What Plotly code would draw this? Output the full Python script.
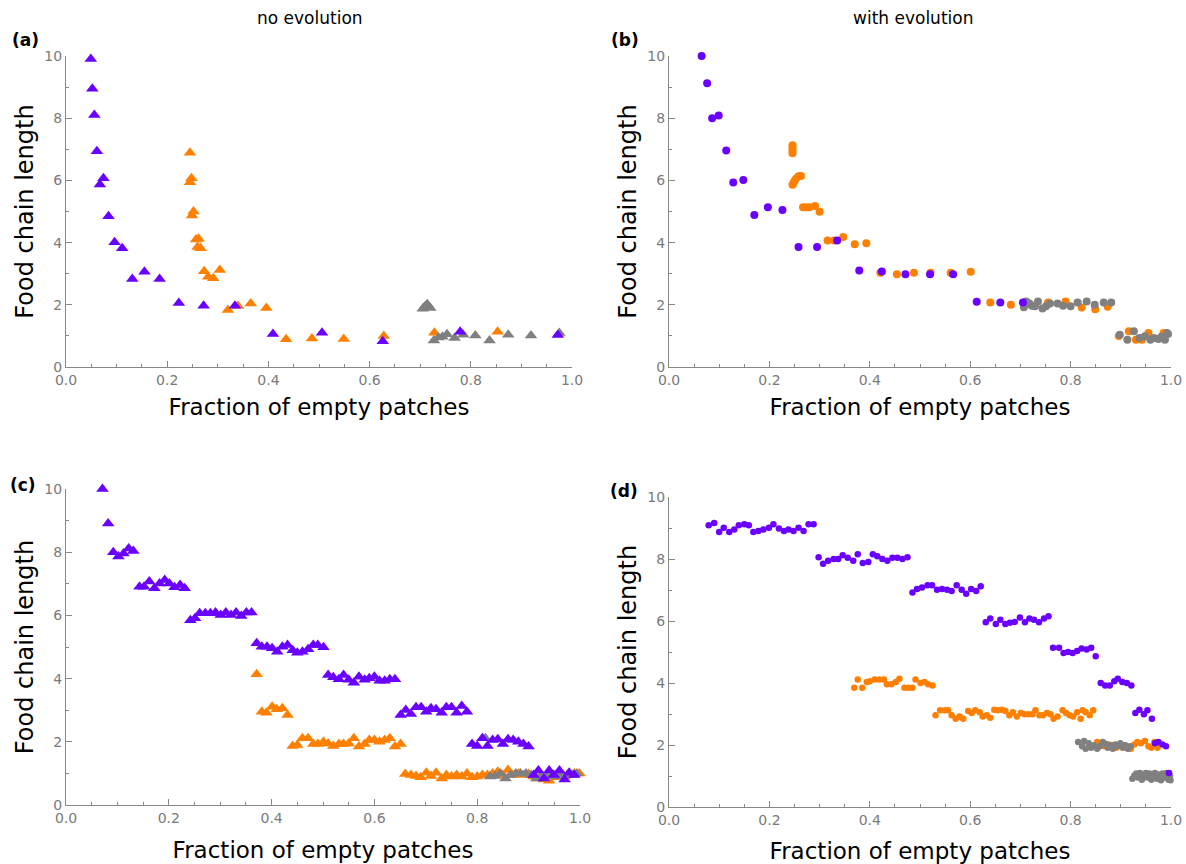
import plotly.graph_objects as go

PURPLE = "#6A00FF"
ORANGE = "#FF8000"
GRAY = "#808080"

# ---------------- Panel (a): no evolution, triangles ----------------
a_purple_x = [0.049, 0.052, 0.056, 0.061, 0.074, 0.067, 0.084, 0.096, 0.111, 0.131, 0.155, 0.185,
              0.223, 0.272, 0.334, 0.409, 0.506, 0.626, 0.779, 0.972]
a_purple_y = [9.9, 8.95, 8.1, 6.94, 6.07, 5.87, 4.85, 4.01, 3.82, 2.83, 3.06, 2.83,
              2.06, 1.97, 1.97, 1.06, 1.10, 0.83, 1.13, 1.03]
a_orange_x = [0.245, 0.248, 0.245, 0.252, 0.249, 0.257, 0.262, 0.260, 0.266, 0.273, 0.281, 0.291,
              0.304, 0.320, 0.340, 0.365, 0.396, 0.435, 0.486, 0.549, 0.628, 0.728, 0.853]
a_orange_y = [6.89, 6.07, 5.94, 5.0, 4.87, 4.10, 4.12, 3.86, 3.82, 3.08, 2.90, 2.85,
              3.12, 1.83, 1.96, 2.04, 1.90, 0.89, 0.92, 0.90, 1.00, 1.10, 1.13]
a_gray_x = [0.705, 0.714, 0.710, 0.720, 0.708, 0.727, 0.736, 0.744, 0.753, 0.768, 0.785, 0.809,
            0.837, 0.874, 0.919, 0.975]
a_gray_y = [1.87, 2.02, 1.95, 1.90, 1.92, 0.85, 0.95, 0.97, 1.05, 0.93, 1.04, 1.01,
            0.85, 1.04, 1.01, 1.09]

# ---------------- Panel (b): with evolution, circles ----------------
b_purple_x = [0.065, 0.076, 0.086, 0.099, 0.114, 0.128, 0.148, 0.170, 0.197, 0.226, 0.258, 0.295,
              0.335, 0.379, 0.424, 0.471, 0.520, 0.566, 0.613, 0.660, 0.705]
b_purple_y = [10.0, 9.12, 8.0, 8.09, 6.96, 5.93, 6.01, 4.89, 5.14, 5.05, 3.86, 3.86,
              4.07, 3.10, 3.07, 2.98, 2.98, 2.98, 2.10, 2.07, 2.07]
b_orange_x = [0.246, 0.246, 0.246, 0.246, 0.246, 0.250, 0.253, 0.258, 0.263, 0.248,
              0.267, 0.273, 0.280, 0.291, 0.300, 0.316, 0.329, 0.347, 0.370, 0.393,
              0.421, 0.454, 0.488, 0.521, 0.561, 0.601,
              0.640, 0.681, 0.714, 0.755, 0.790, 0.822, 0.849, 0.874,
              0.896, 0.916, 0.930, 0.942, 0.955, 0.985]
b_orange_y = [7.13, 7.03, 6.94, 6.87, 5.86, 5.98, 6.05, 6.13, 6.14, 5.92,
              5.14, 5.14, 5.14, 5.18, 4.99, 4.07, 4.07, 4.18, 3.95, 3.98,
              3.03, 2.98, 3.03, 3.03, 3.03, 3.06,
              2.07, 2.00, 2.07, 2.07, 2.11, 1.91, 1.86, 1.94,
              1.00, 1.15, 0.88, 0.88, 1.09, 1.09]
b_gray_x = [0.707, 0.711, 0.718, 0.723, 0.729, 0.735, 0.744, 0.751, 0.759, 0.774, 0.785, 0.800,
            0.814, 0.832, 0.848, 0.866, 0.881,
            0.898, 0.913, 0.926, 0.937, 0.948, 0.959, 0.966, 0.975, 0.981, 0.988, 0.992, 0.994]
b_gray_y = [1.92, 2.11, 2.04, 1.97, 1.95, 2.11, 1.88, 1.95, 2.04, 2.04, 1.97, 1.95,
            2.07, 2.11, 2.00, 2.07, 2.07,
            1.04, 0.88, 1.15, 0.93, 0.99, 0.88, 0.93, 0.90, 0.97, 0.88, 1.09, 1.06]

# ---------------- Panel (c): no evolution, triangles ----------------
c_purple_x = [0.071, 0.082, 0.092, 0.102, 0.112, 0.122, 0.131,
              0.143, 0.152, 0.162, 0.172, 0.182, 0.192, 0.201, 0.211, 0.222, 0.231,
              0.242, 0.251, 0.260, 0.271, 0.281, 0.291, 0.301, 0.311, 0.321, 0.331, 0.341, 0.351, 0.361,
              0.371, 0.381, 0.391, 0.401, 0.411, 0.421, 0.431, 0.441, 0.450, 0.460, 0.471, 0.481, 0.490, 0.501,
              0.510, 0.520, 0.531, 0.540, 0.550, 0.560, 0.570, 0.581, 0.590, 0.600, 0.610, 0.620, 0.630, 0.640,
              0.651, 0.661, 0.671, 0.681, 0.691, 0.701, 0.710, 0.720, 0.731, 0.740, 0.750, 0.760, 0.770, 0.780,
              0.790, 0.800, 0.810, 0.820, 0.830, 0.840, 0.850, 0.860, 0.870, 0.880, 0.890, 0.900,
              0.910, 0.919, 0.930, 0.940, 0.949, 0.960, 0.970, 0.979, 0.989]
c_purple_y = [10.0, 8.91, 8.0, 7.86, 7.96, 8.12, 8.04,
              6.91, 6.91, 7.07, 6.86, 7.01, 7.12, 7.01, 6.89, 6.96, 6.86,
              5.85, 5.91, 6.07, 6.07, 6.07, 6.09, 6.01, 6.09, 6.01, 6.09, 5.98, 6.09, 6.09,
              5.12, 5.01, 5.01, 4.96, 4.85, 5.01, 5.06, 4.90, 4.82, 4.85, 4.93, 5.06, 5.06, 4.99,
              4.11, 4.04, 3.98, 4.11, 3.96, 3.87, 4.06, 3.96, 4.01, 4.06, 3.93, 3.93, 3.98, 3.98,
              2.85, 3.01, 2.88, 3.09, 3.09, 2.95, 3.06, 3.03, 2.92, 3.09, 3.09, 2.92, 3.13, 2.95,
              1.93, 1.87, 2.11, 1.87, 2.06, 2.08, 1.93, 2.08, 2.06, 2.00, 1.93, 1.85,
              0.95, 1.09, 0.84, 1.09, 0.95, 1.09, 0.81, 1.02, 0.95]
c_orange_x = [0.371,
              0.381, 0.390, 0.401, 0.410, 0.421, 0.431,
              0.441, 0.450, 0.460, 0.471, 0.481, 0.490, 0.501, 0.510, 0.520, 0.531, 0.540, 0.550,
              0.560, 0.570, 0.581, 0.590, 0.600, 0.610, 0.620, 0.630, 0.640, 0.651,
              0.660, 0.671, 0.681, 0.690, 0.701, 0.710, 0.720, 0.731, 0.740, 0.750, 0.760, 0.770,
              0.780, 0.790, 0.800, 0.810, 0.820, 0.830, 0.840, 0.850, 0.860, 0.869, 0.880, 0.890,
              0.900, 0.910, 0.919, 0.930, 0.940, 0.949, 0.960, 0.970, 0.979, 0.989, 0.999]
c_orange_y = [4.14,
              2.95, 2.92, 3.11, 3.03, 3.06, 2.85,
              1.87, 1.90, 2.11, 2.11, 1.93, 1.93, 2.00, 1.95, 1.87, 1.93, 1.93, 1.95,
              2.11, 1.85, 1.93, 2.06, 2.06, 2.00, 2.06, 2.11, 1.85, 1.93,
              0.98, 0.95, 0.92, 0.88, 1.02, 0.92, 1.02, 0.84, 0.95, 0.90, 0.95, 0.90,
              1.00, 0.88, 0.90, 0.95, 0.95, 1.00, 1.05, 0.95, 1.11, 0.95, 1.00, 0.95,
              0.98, 0.90, 0.84, 0.81, 0.77, 0.88, 0.95, 0.90, 1.00, 1.00, 1.00]
c_gray_x = [0.816, 0.825, 0.835, 0.845, 0.855, 0.865, 0.875, 0.884, 0.895, 0.905, 0.915, 0.925,
            0.935, 0.945, 0.955, 0.965, 0.975, 0.985, 0.994]
c_gray_y = [2.11, 0.90, 0.92, 1.00, 0.84, 0.95, 1.00, 1.00, 1.00, 0.95, 0.84, 0.92,
            0.90, 0.95, 0.90, 0.95, 0.95, 0.95, 1.00]

# ---------------- Panel (d): with evolution, circles ----------------
d_purple_x = [0.079, 0.090, 0.100, 0.109, 0.120, 0.130, 0.139, 0.150, 0.159, 0.168, 0.178, 0.188,
              0.199, 0.208, 0.219, 0.229, 0.238, 0.248, 0.258, 0.268, 0.278, 0.288,
              0.298, 0.307, 0.317, 0.328, 0.337, 0.346, 0.356, 0.367, 0.376, 0.386, 0.397, 0.406,
              0.415, 0.425, 0.435, 0.445, 0.455, 0.465, 0.475,
              0.485, 0.494, 0.504, 0.515, 0.524, 0.534, 0.544, 0.554, 0.563, 0.573, 0.583, 0.592,
              0.602, 0.612, 0.621,
              0.631, 0.640, 0.651, 0.660, 0.670, 0.679, 0.689, 0.699, 0.709, 0.718, 0.727, 0.737,
              0.747, 0.756,
              0.765, 0.777, 0.786, 0.795, 0.804, 0.813, 0.822, 0.832, 0.841, 0.850,
              0.860, 0.869, 0.878, 0.887, 0.894, 0.903, 0.912, 0.921,
              0.929, 0.937, 0.946, 0.953, 0.962,
              0.968, 0.975, 0.983, 0.990, 0.996]
d_purple_y = [9.09, 9.16, 8.87, 9.01, 8.87, 8.95, 9.09, 9.12, 9.09, 8.87, 8.90, 8.95,
              9.01, 9.12, 8.98, 8.90, 8.95, 8.90, 9.01, 8.90, 9.12, 9.12,
              8.06, 7.85, 7.94, 8.00, 8.00, 8.12, 8.04, 7.94, 8.15, 7.87, 7.90, 8.15,
              8.09, 8.00, 7.94, 8.04, 8.04, 8.00, 8.06,
              6.92, 7.03, 7.08, 7.15, 7.15, 7.01, 7.03, 7.01, 6.97, 7.15, 7.01, 6.88,
              7.03, 6.97, 7.12,
              5.96, 6.08, 5.90, 6.04, 5.90, 5.94, 5.97, 6.11, 5.96, 6.08, 6.04, 5.96,
              6.08, 6.15,
              5.14, 5.14, 4.97, 5.00, 4.97, 5.03, 5.11, 5.08, 5.14, 4.86,
              4.00, 3.92, 3.92, 4.06, 4.14, 4.03, 4.00, 3.92,
              3.03, 3.14, 2.99, 3.12, 2.85,
              2.06, 2.10, 2.02, 1.96, 1.10]
d_orange_x = [0.369, 0.376, 0.385, 0.394, 0.400, 0.410, 0.419, 0.428, 0.434, 0.443, 0.452, 0.459,
              0.469, 0.477, 0.485, 0.491, 0.501, 0.509, 0.516, 0.525,
              0.531, 0.540, 0.549, 0.556, 0.563, 0.571, 0.579, 0.586, 0.596, 0.603, 0.610, 0.619,
              0.625, 0.633, 0.640, 0.648, 0.655, 0.663, 0.670, 0.678, 0.685, 0.693, 0.701, 0.708,
              0.716, 0.724, 0.730, 0.738, 0.745, 0.753, 0.760, 0.766, 0.774, 0.784, 0.791, 0.798,
              0.805, 0.813, 0.820, 0.824, 0.830, 0.838, 0.845,
              0.853, 0.860, 0.867, 0.876, 0.884, 0.891, 0.899, 0.905, 0.912, 0.920, 0.927, 0.933,
              0.940, 0.948, 0.955, 0.961, 0.967, 0.973,
              0.980, 0.987]
d_orange_y = [3.85, 4.11, 3.85, 4.03, 4.06, 4.11, 4.11, 4.11, 3.96, 3.96, 4.03, 4.14,
              3.85, 3.85, 3.85, 4.11, 4.00, 4.03, 3.96, 3.92,
              2.96, 3.12, 3.12, 3.12, 2.96, 2.85, 2.92, 2.85, 3.10, 3.03, 3.12, 3.06,
              2.92, 2.96, 2.88, 3.14, 3.12, 3.14, 3.10, 2.96, 3.06, 2.92, 3.03, 2.99,
              2.99, 2.99, 3.12, 2.96, 2.96, 3.03, 2.99, 2.85, 2.92, 3.12, 3.03, 2.96,
              2.92, 3.06, 2.85, 3.12, 3.06, 2.96, 3.12,
              2.10, 2.04, 1.96, 2.02, 1.99, 1.91, 1.99, 1.99, 1.96, 1.88, 2.02, 2.10,
              2.06, 2.13, 1.96, 1.91, 2.10, 1.91,
              1.02, 0.97]
d_gray_x = [0.815, 0.823, 0.827, 0.830, 0.836, 0.841, 0.846, 0.853, 0.858, 0.864, 0.869, 0.874,
            0.879, 0.884, 0.889, 0.894, 0.899, 0.904, 0.909, 0.914, 0.919,
            0.923, 0.927, 0.931, 0.934, 0.938, 0.942, 0.946, 0.950, 0.953, 0.957, 0.961, 0.965,
            0.968, 0.972, 0.976, 0.980, 0.983, 0.987, 0.991, 0.995, 0.998, 0.999]
d_gray_y = [2.10, 1.96, 2.13, 1.88, 2.06, 1.91, 1.99, 1.88, 1.96, 2.10, 2.04, 1.91,
            1.99, 1.88, 2.02, 1.96, 2.06, 1.91, 1.99, 1.88, 1.96,
            0.91, 1.02, 1.08, 0.95, 1.10, 0.88, 1.02, 1.10, 0.95, 1.08, 0.88, 1.02,
            1.10, 0.91, 1.05, 0.86, 1.08, 0.95, 1.10, 0.88, 1.02, 0.86]

panels = [
    ("x", "y", "triangle-up", 11, [(a_orange_x, a_orange_y, ORANGE), (a_gray_x, a_gray_y, GRAY), (a_purple_x, a_purple_y, PURPLE)]),
    ("x2", "y2", "circle", 8, [(b_orange_x, b_orange_y, ORANGE), (b_gray_x, b_gray_y, GRAY), (b_purple_x, b_purple_y, PURPLE)]),
    ("x3", "y3", "triangle-up", 11, [(c_orange_x, c_orange_y, ORANGE), (c_gray_x, c_gray_y, GRAY), (c_purple_x, c_purple_y, PURPLE)]),
    ("x4", "y4", "circle", 6.5, [(d_orange_x, d_orange_y, ORANGE), (d_gray_x, d_gray_y, GRAY), (d_purple_x, d_purple_y, PURPLE)]),
]

fig = go.Figure()
for xa, ya, sym, size, series in panels:
    for xs, ys, col in series:
        fig.add_trace(go.Scatter(
            x=xs, y=ys, mode="markers", xaxis=xa, yaxis=ya,
            marker=dict(symbol=sym, size=size, color=col, line=dict(width=0)),
            cliponaxis=False, showlegend=False, hoverinfo="skip"))

W, H = 1186, 864

def dx(a, b):
    return [a / W, b / W]

def dy(top, bottom):
    return [1 - bottom / H, 1 - top / H]

FONT = "DejaVu Sans"
tickfont = dict(family=FONT, size=14, color="#7a7a7a")

def xaxis(domain, anchor, standoff):
    return dict(domain=domain, anchor=anchor, range=[0, 1], tickvals=[0, 0.2, 0.4, 0.6, 0.8, 1.0],
                ticktext=["0.0", "0.2", "0.4", "0.6", "0.8", "1.0"], automargin=False,
                ticks="inside", ticklen=6, tickcolor="#888888", tickwidth=1,
                minor=dict(dtick=0.05, ticks="inside", ticklen=3, tickcolor="#888888", tickwidth=1),
                showline=True, linecolor="#888888", linewidth=1.2, showgrid=False, zeroline=False,
                tickfont=tickfont,
                title=dict(text="Fraction of empty patches", font=dict(family=FONT, size=23, color="black"),
                           standoff=standoff))

def yaxis(domain, anchor):
    return dict(domain=domain, anchor=anchor, range=[0, 10], tickvals=[0, 2, 4, 6, 8, 10],
                automargin=False,
                ticks="inside", ticklen=6, tickcolor="#888888", tickwidth=1,
                minor=dict(dtick=1, ticks="inside", ticklen=3, tickcolor="#888888", tickwidth=1),
                showline=True, linecolor="#888888", linewidth=1.2, showgrid=False, zeroline=False,
                tickfont=tickfont,
                title=dict(text="Food chain length", font=dict(family=FONT, size=24, color="black"), standoff=3))

fig.update_layout(
    width=W, height=H,
    margin=dict(l=0, r=0, t=0, b=0, autoexpand=False),
    paper_bgcolor="white", plot_bgcolor="white",
    xaxis=xaxis(dx(66, 572), "y", 11), yaxis=yaxis(dy(56, 367), "x"),
    xaxis2=xaxis(dx(669, 1171), "y2", 11), yaxis2=yaxis(dy(56, 367), "x2"),
    xaxis3=xaxis(dx(66, 580), "y3", 16), yaxis3=yaxis(dy(489, 805), "x3"),
    xaxis4=xaxis(dx(669, 1171), "y4", 15), yaxis4=yaxis(dy(497, 807), "x4"),
)

annots = [
    ("no evolution", 310, 18, 17),
    ("with evolution", 913, 18, 17),
    ("<b>(a)</b>", 25, 40, 17),
    ("<b>(b)</b>", 625, 40, 17),
    ("<b>(c)</b>", 23, 485, 17),
    ("<b>(d)</b>", 624, 491, 17),
]
for text, px, py, fs in annots:
    fig.add_annotation(text=text, x=px / W, y=1 - py / H, xref="paper", yref="paper",
                       showarrow=False, xanchor="center", yanchor="middle",
                       font=dict(family=FONT, size=fs, color="black"))

fig.write_html("out.html", config={"displayModeBar": False},
               post_script="document.body.style.margin='0px';document.body.style.padding='0px';document.body.style.overflow='hidden';")
